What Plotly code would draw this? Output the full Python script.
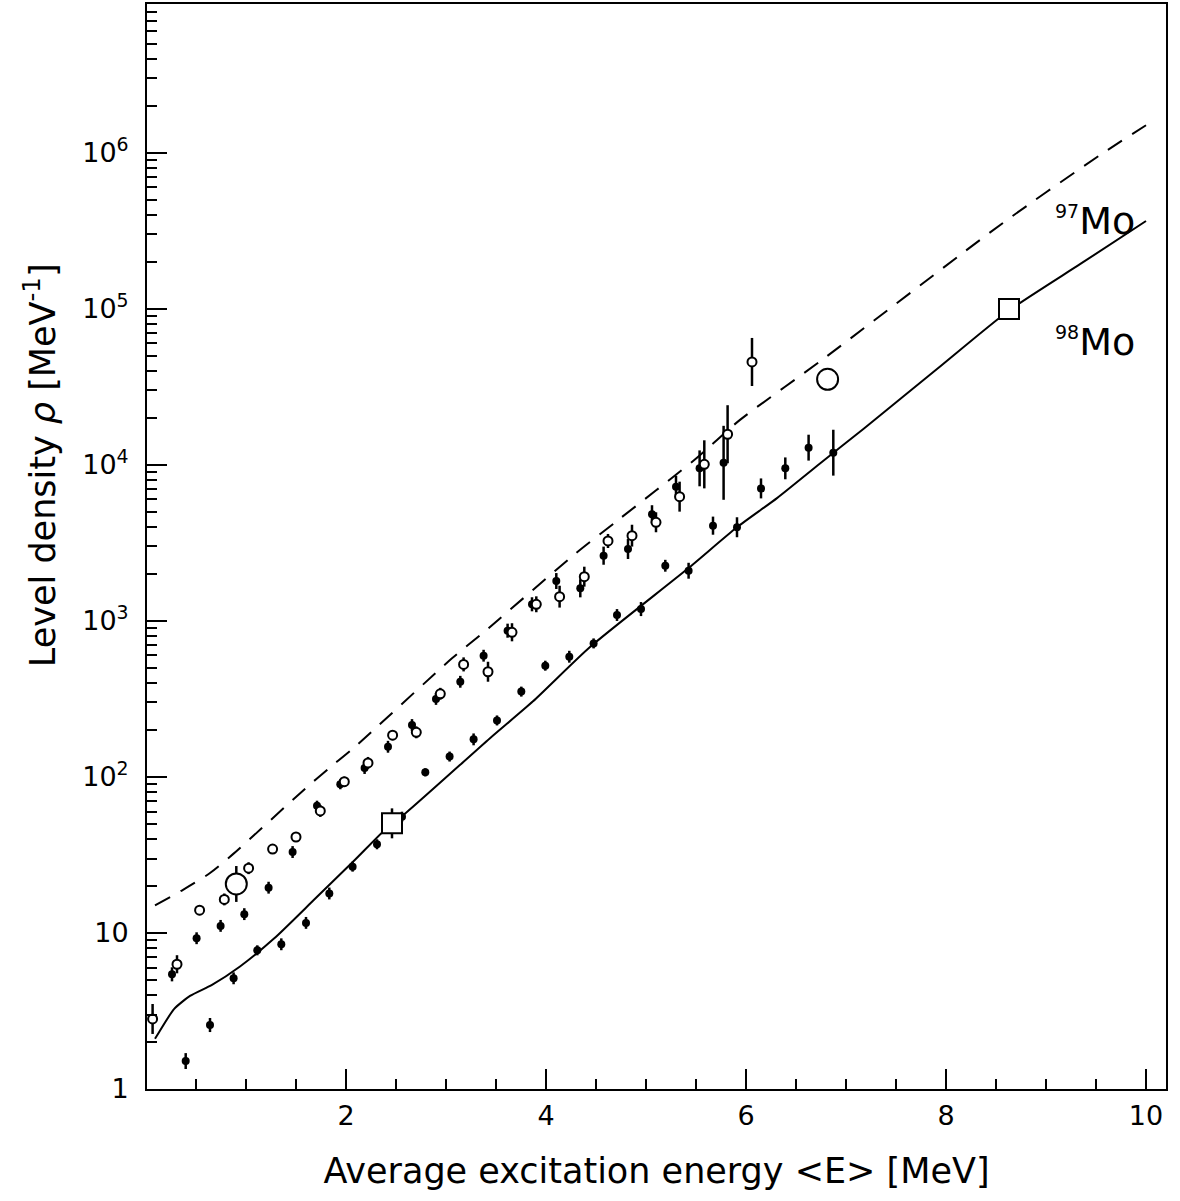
import plotly.graph_objects as go

# ---------------- data ----------------
# filled circles (experimental points)
e_filled = [0.26, 0.397, 0.506, 0.64, 0.746, 0.876, 0.983, 1.113, 1.226, 1.353,
            1.466, 1.6, 1.71, 1.833, 1.943, 2.066, 2.186, 2.31, 2.42, 2.56,
            2.66, 2.793, 2.9, 3.036, 3.143, 3.276, 3.376, 3.51, 3.616, 3.753,
            3.86, 3.993, 4.103, 4.233, 4.343, 4.476, 4.576, 4.71, 4.82, 4.95,
            5.06, 5.193, 5.3, 5.426, 5.536, 5.67, 5.776, 5.91, 6.15, 6.393,
            6.626, 6.873]
rho_filled = [5.43, 1.51, 9.25, 2.57, 11.1, 5.12, 13.2, 7.74, 19.5, 8.46,
              33.0, 11.6, 65.4, 17.9, 89.7, 26.6, 114, 37, 156, 55.6,
              215, 107, 316, 135, 407, 174, 598, 230, 865, 352,
              1277, 516, 1800, 589, 1617, 717, 2616, 1090, 2886, 1190,
              4820, 2255, 7240, 2095, 9490, 4074, 10300, 3980, 7060, 9490,
              12880, 11960]
# error half-widths in decades
dex_filled = [0.045, 0.051, 0.038, 0.045, 0.038, 0.038, 0.038, 0.032, 0.038, 0.038,
              0.038, 0.038, 0.032, 0.038, 0.032, 0.032, 0.038, 0.032, 0.038, 0.032,
              0.038, 0.026, 0.038, 0.032, 0.038, 0.038, 0.038, 0.032, 0.045, 0.032,
              0.045, 0.032, 0.051, 0.038, 0.058, 0.032, 0.058, 0.038, 0.064, 0.045,
              0.058, 0.038, 0.070, 0.051, 0.115, 0.058, 0.237, 0.064, 0.064, 0.070,
              0.083, 0.147]

# open circles (experimental points)
e_open = [0.066, 0.31, 0.536, 0.783, 1.026, 1.266, 1.5, 1.743, 1.983, 2.22,
          2.466, 2.703, 2.943, 3.176, 3.42, 3.66, 3.903, 4.136, 4.383, 4.62,
          4.86, 5.1, 5.336, 5.583, 5.816, 6.06]
rho_open = [2.81, 6.3, 14.0, 16.4, 26.0, 34.5, 41.2, 60.5, 93.2, 123,
            185, 193, 341, 526, 472, 845, 1277, 1429, 1919, 3250,
            3515, 4283, 6250, 10070, 15700, 45600]
dex_open = [0.096, 0.058, 0.032, 0.038, 0.038, 0.032, 0.032, 0.038, 0.032, 0.038,
            0.032, 0.038, 0.038, 0.045, 0.064, 0.058, 0.051, 0.070, 0.064, 0.045,
            0.070, 0.064, 0.096, 0.154, 0.186, 0.154]

# anchor points
e_big_circle = [0.903, 6.816]
rho_big_circle = [20.6, 35300]
dex_big_circle = [0.115, 0.0]
e_square = [2.46, 8.63]
rho_square = [50.4, 99500]
dex_square = [0.096, 0.0]

# model curves
e_solid = [0.09, 0.11, 0.28, 0.44, 0.66, 0.94, 1.28, 1.68, 2.07, 2.46,
           2.56, 3.44, 3.87, 4.44, 5.41, 5.91, 6.31, 6.74, 7.18, 7.91,
           8.63, 9.34, 10.0]
rho_solid = [2.1, 2.2, 3.25, 3.95, 4.65, 6.1, 9.2, 16.3, 28.6, 50.7,
             56, 177, 305, 680, 2140, 3980, 6120, 10200, 17100, 41100,
             97500, 193000, 365000]
e_dash = [0.09, 0.37, 0.64, 0.87, 1.6, 1.84, 2.07, 3.06, 3.41, 4.28,
          4.71, 5.48, 5.94, 6.76, 8.57, 9.54, 10.0]
rho_dash = [15.0, 18.9, 24.2, 32.0, 85, 115, 152, 575, 880, 2650,
            4370, 10700, 19400, 47000, 355000, 966000, 1.5e6]

x_tickvals = [2, 4, 6, 8, 10]
x_ticktext = ["2", "4", "6", "8", "10"]
y_tickvals = [1, 10, 1e2, 1e3, 1e4, 1e5, 1e6]
y_ticktext = ["1", "10", "10<sup>2</sup>", "10<sup>3</sup>", "10<sup>4</sup>",
              "10<sup>5</sup>", "10<sup>6</sup>"]
y_minor = [k * 10 ** n for n in range(0, 7) for k in range(2, 10)]


def err_up(vals, dex):
    return [v * (10 ** d - 1) for v, d in zip(vals, dex)]


def err_down(vals, dex):
    return [v * (1 - 10 ** (-d)) for v, d in zip(vals, dex)]


def ebar(vals, dex):
    return dict(type="data", symmetric=False, array=err_up(vals, dex),
                arrayminus=err_down(vals, dex), color="black",
                thickness=2.5, width=0)


FONT = "DejaVu Sans"
fig = go.Figure()

fig.add_trace(go.Scatter(x=e_dash, y=rho_dash, mode="lines",
                         line=dict(color="black", width=2, dash="17px,12px",
                                   shape="spline", smoothing=0.7),
                         showlegend=False, hoverinfo="skip"))
fig.add_trace(go.Scatter(x=e_solid, y=rho_solid, mode="lines",
                         line=dict(color="black", width=2,
                                   shape="spline", smoothing=0.6),
                         showlegend=False, hoverinfo="skip"))

fig.add_trace(go.Scatter(x=e_filled, y=rho_filled, mode="markers",
                         marker=dict(symbol="circle", size=8, color="black"),
                         error_y=ebar(rho_filled, dex_filled), showlegend=False))
fig.add_trace(go.Scatter(x=e_open, y=rho_open, mode="markers",
                         marker=dict(symbol="circle", size=9, color="white",
                                     line=dict(color="black", width=2)),
                         error_y=ebar(rho_open, dex_open), showlegend=False))
fig.add_trace(go.Scatter(x=e_big_circle, y=rho_big_circle, mode="markers",
                         marker=dict(symbol="circle", size=21, color="white",
                                     line=dict(color="black", width=2)),
                         error_y=ebar(rho_big_circle, dex_big_circle), showlegend=False))
fig.add_trace(go.Scatter(x=e_square, y=rho_square, mode="markers",
                         marker=dict(symbol="square", size=20, color="white",
                                     line=dict(color="black", width=2)),
                         error_y=ebar(rho_square, dex_square), showlegend=False))

fig.add_annotation(x=9.49, y=5.56, xref="x", yref="y",
                   text="<sup><span style='font-size:19px'>97</span></sup>Mo",
                   showarrow=False, font=dict(family=FONT, size=38, color="black"))
fig.add_annotation(x=9.49, y=4.79, xref="x", yref="y",
                   text="<sup><span style='font-size:19px'>98</span></sup>Mo",
                   showarrow=False, font=dict(family=FONT, size=38, color="black"))

# y-axis title (placed toward the upper part of the axis, as in the reference)
fig.add_annotation(x=-0.105, y=0.575, xref="paper", yref="paper",
                   text="Level density <i>ρ</i> [MeV<sup>-1</sup>]",
                   textangle=-90, showarrow=False, xanchor="center", yanchor="middle",
                   font=dict(family=FONT, size=35, color="black"))

axis_common = dict(showline=True, linewidth=2, linecolor="black", mirror=True,
                   ticks="inside", ticklen=20, tickwidth=2, tickcolor="black",
                   showgrid=False, zeroline=False)

fig.update_xaxes(range=[0.01, 10.2], tickvals=x_tickvals, ticktext=x_ticktext,
                 minor=dict(ticks="inside", ticklen=10, tickwidth=2, tickcolor="black",
                            tick0=0, dtick=0.5, showgrid=False),
                 title=dict(text="Average excitation energy &lt;E&gt; [MeV]",
                            font=dict(family=FONT, size=35), standoff=28),
                 tickfont=dict(family=FONT, size=27),
                 ticklabelstandoff=2,
                 **axis_common)
fig.update_yaxes(type="log", range=[0, 6.953], tickvals=y_tickvals, ticktext=y_ticktext,
                 minor=dict(ticks="inside", ticklen=10, tickwidth=2, tickcolor="black",
                            tickvals=y_minor, showgrid=False),
                 tickfont=dict(family=FONT, size=27),
                 ticklabelstandoff=11,
                 **axis_common)

fig.update_layout(width=1180, height=1201,
                  margin=dict(l=147, r=14, t=4, b=112, autoexpand=False),
                  paper_bgcolor="white", plot_bgcolor="white",
                  font=dict(family=FONT, color="black"),
                  showlegend=False)

fig.write_html("out.html", config={"displayModeBar": False},
               post_script="document.body.style.margin='0px';document.body.style.padding='0px';")
